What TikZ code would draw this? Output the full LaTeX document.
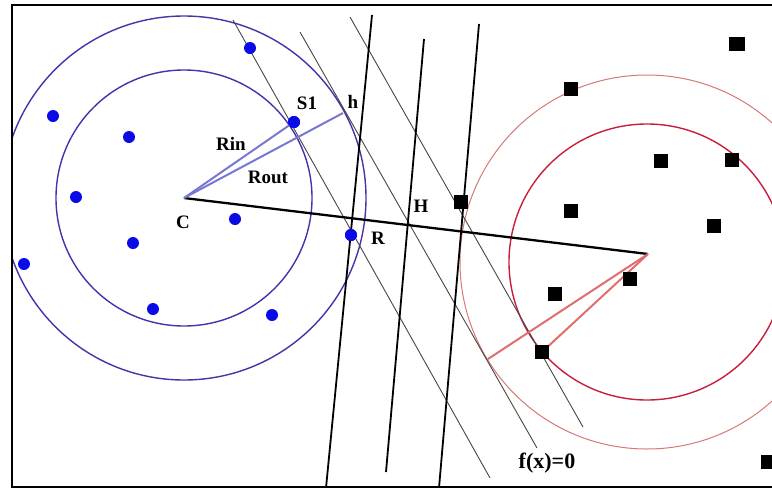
\documentclass[tikz,border=0pt]{standalone}
\usepackage{fontspec}
\setmainfont{Liberation Serif}
\definecolor{bcirc}{RGB}{70,50,170}
\definecolor{bline}{RGB}{120,120,210}
\definecolor{bdot}{RGB}{10,10,230}
\definecolor{rin}{RGB}{200,30,60}
\definecolor{rout}{RGB}{215,120,120}
\definecolor{rline}{RGB}{225,110,110}
\definecolor{gline}{RGB}{70,70,70}
\begin{document}
\begin{tikzpicture}[x=1pt,y=-1pt,
  bluedot/.style={circle,fill=bdot,inner sep=0pt,minimum size=12pt},
  sq/.style={rectangle,fill=black,inner sep=0pt,minimum size=14pt},
  lbl/.style={font=\fontsize{19}{19}\selectfont\bfseries,inner sep=0pt},
  biglbl/.style={font=\fontsize{22}{22}\selectfont\bfseries,inner sep=0pt},
  thinline/.style={draw=gline,line width=0.9pt},
  blackline/.style={draw=black,line width=1.8pt},
  bluecirc/.style={draw=bcirc,line width=1.4pt},
  blueray/.style={draw=bline,line width=2pt},
  redray/.style={draw=rline,line width=2pt}]
\useasboundingbox (0,0) rectangle (772,488);
\begin{scope}
\clip (12,5) rectangle (772,487);
% centres
\coordinate (C) at (184,198);
\coordinate (P) at (648,254);
\coordinate (Q) at (647,262);
% circles
\draw[bluecirc] (C) circle[radius=182];
\draw[bluecirc] (C) circle[radius=128];
\draw[draw=rout,line width=1pt] (Q) circle[radius=187];
\draw[draw=rin,line width=1.4pt] (Q) circle[radius=138];
% grey lines
\coordinate (a1) at (233,20);  \coordinate (a2) at (490,478);
\coordinate (b1) at (300,32);  \coordinate (b2) at (537,448);
\coordinate (c1) at (350,17);  \coordinate (c2) at (583,427);
\draw[thinline] (a1) -- (a2);
\draw[thinline] (b1) -- (b2);
\draw[thinline] (c1) -- (c2);
% black near-vertical lines
\coordinate (d1) at (372,15);  \coordinate (d2) at (326,488);
\coordinate (e1) at (424,39);  \coordinate (e2) at (386,472);
\coordinate (f1) at (479,24);  \coordinate (f2) at (439,488);
\draw[blackline] (d1) -- (d2);
\draw[blackline] (e1) -- (e2);
\draw[blackline] (f1) -- (f2);
% centre line
\draw[draw=black,line width=2.3pt] (C) -- (P);
% points
\coordinate (h) at (343,113);
\coordinate (rh) at (488,359);
\node[bluedot] (s1) at (294,122) {};
\node[bluedot] (r) at (351,235) {};
\draw[blueray] (C) -- (s1.center);
\draw[blueray] (C) -- (h);
\node[sq] (q1) at (542,352) {};
\draw[redray] (P) -- (rh);
\draw[redray] (P) -- (q1.center);
\node[sq] at (542,352) {};
\node[bluedot] (b1p) at (250,48) {};
\node[bluedot] (b2p) at (53,116) {};
\node[bluedot] (b3p) at (129,137) {};
\node[bluedot] (b4p) at (76,197) {};
\node[bluedot] (b5p) at (235,219) {};
\node[bluedot] (b6p) at (133,243) {};
\node[bluedot] (b7p) at (24,264) {};
\node[bluedot] (b8p) at (153,309) {};
\node[bluedot] (b9p) at (272,315) {};
\node[bluedot] at (294,122) {};
\node[bluedot] at (351,235) {};
\node[sq,minimum width=16pt] (k1) at (737,44) {};
\node[sq] (k2) at (571,89) {};
\node[sq] (k3) at (661,161) {};
\node[sq] (k4) at (732,160) {};
\node[sq] (k5) at (461,202) {};
\node[sq] (k6) at (571,211) {};
\node[sq] (k7) at (714,226) {};
\node[sq] (k8) at (555,294) {};
\node[sq] (k9) at (630,279) {};
\node[sq] (k10) at (768,462) {};
% labels
\node[lbl] (tS1) at (307,103) {S1};
\node[lbl] (th) at (353,102) {h};
\node[lbl] (tRin) at (231,144) {Rin};
\node[lbl] (tRout) at (268,177) {Rout};
\node[lbl] (tC) at (183,222) {C};
\node[lbl] (tR) at (378,238) {R};
\node[lbl] (tH) at (421,206) {H};
\node[biglbl] (tf) at (547,463) {f(x)=0};
\end{scope}
\draw[line width=2.5pt] (772,5) -- (12,5) -- (12,487) -- (772,487);
\end{tikzpicture}
\end{document}
